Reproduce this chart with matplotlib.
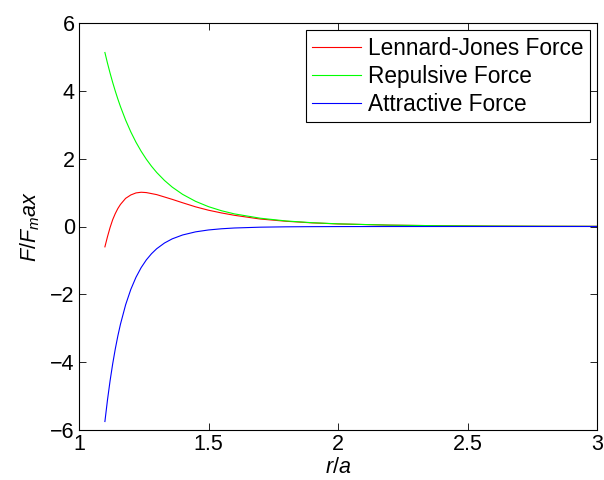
import matplotlib
matplotlib.use("Agg")
import matplotlib.pyplot as plt

plt.rcParams['font.family'] = ['Liberation Sans', 'DejaVu Sans']
plt.rcParams['mathtext.fontset'] = 'custom'
plt.rcParams['mathtext.it'] = 'Liberation Sans:italic'
plt.rcParams['mathtext.rm'] = 'Liberation Sans'

# Values
r = [1.10, 1.11, 1.12, 1.13, 1.14, 1.15, 1.16, 1.18, 1.20, 1.22, 1.24, 1.26,
     1.28, 1.30, 1.33, 1.36, 1.40, 1.45, 1.50, 1.55, 1.60, 1.70, 1.80, 1.90,
     2.00, 2.20, 2.40, 2.60, 2.80, 3.00]
lennard_jones = [-0.60, -0.30, -0.03, 0.20, 0.38, 0.53, 0.65, 0.83, 0.93, 0.99,
                 1.01, 1.00, 0.97, 0.94, 0.87, 0.80, 0.70, 0.58, 0.48, 0.40,
                 0.33, 0.22, 0.154, 0.107, 0.076, 0.040, 0.022, 0.012, 0.007, 0.005]
repulsive = [5.13, 4.815, 4.522, 4.249, 3.995, 3.758, 3.537, 3.138, 2.790, 2.485,
             2.218, 1.983, 1.776, 1.593, 1.358, 1.161, 0.948, 0.742, 0.585, 0.465,
             0.372, 0.244, 0.163, 0.112, 0.078, 0.040, 0.022, 0.0125, 0.0074, 0.0046]
attractive = [-5.75, -5.112, -4.549, -4.053, -3.614, -3.226, -2.883, -2.308, -1.855,
              -1.497, -1.212, -0.984, -0.802, -0.655, -0.487, -0.364, -0.250, -0.158,
              -0.102, -0.067, -0.044, -0.020, -0.0095, -0.0047, -0.0024, -0.0005,
              -0.0002, -0.0001, 0.0, 0.0]
labels = ['Lennard-Jones Force', 'Repulsive Force', 'Attractive Force']
xticks = [1, 1.5, 2, 2.5, 3]
yticks = [-6, -4, -2, 0, 2, 4, 6]

fig = plt.figure(figsize=(6.04, 4.80), dpi=100)
ax = fig.add_axes([79/604, 1-430/480, (597-79)/604, (430-23)/480])

ax.plot(r, lennard_jones, color='#ff0000', lw=0.8, label=labels[0])
ax.plot(r, repulsive, color='#00ff00', lw=0.8, label=labels[1])
ax.plot(r, attractive, color='#0000ff', lw=0.8, label=labels[2])

ax.set_xlim(1, 3)
ax.set_ylim(-6, 6)
ax.set_xticks(xticks)
ax.set_xticklabels(['1', '1.5', '2', '2.5', '3'])
ax.set_yticks(yticks)
ax.tick_params(direction='in', length=5, width=0.6, top=True, right=True,
               labelsize=15.5, pad=3)
for s in ax.spines.values():
    s.set_linewidth(0.8)

ax.set_xlabel(r'$r/a$', fontsize=15.5, labelpad=1)
ax.set_ylabel(r'$F/F_max$', fontsize=15.5, labelpad=6)

leg = ax.legend(loc='upper right', fontsize=16.3, frameon=True, fancybox=False,
                edgecolor='black', framealpha=1, borderaxespad=0.3,
                handlelength=2.15, handletextpad=0.3, labelspacing=0.22,
                borderpad=0.3)
leg.get_frame().set_linewidth(0.8)

fig.savefig('out.png', dpi=100, facecolor='white')
